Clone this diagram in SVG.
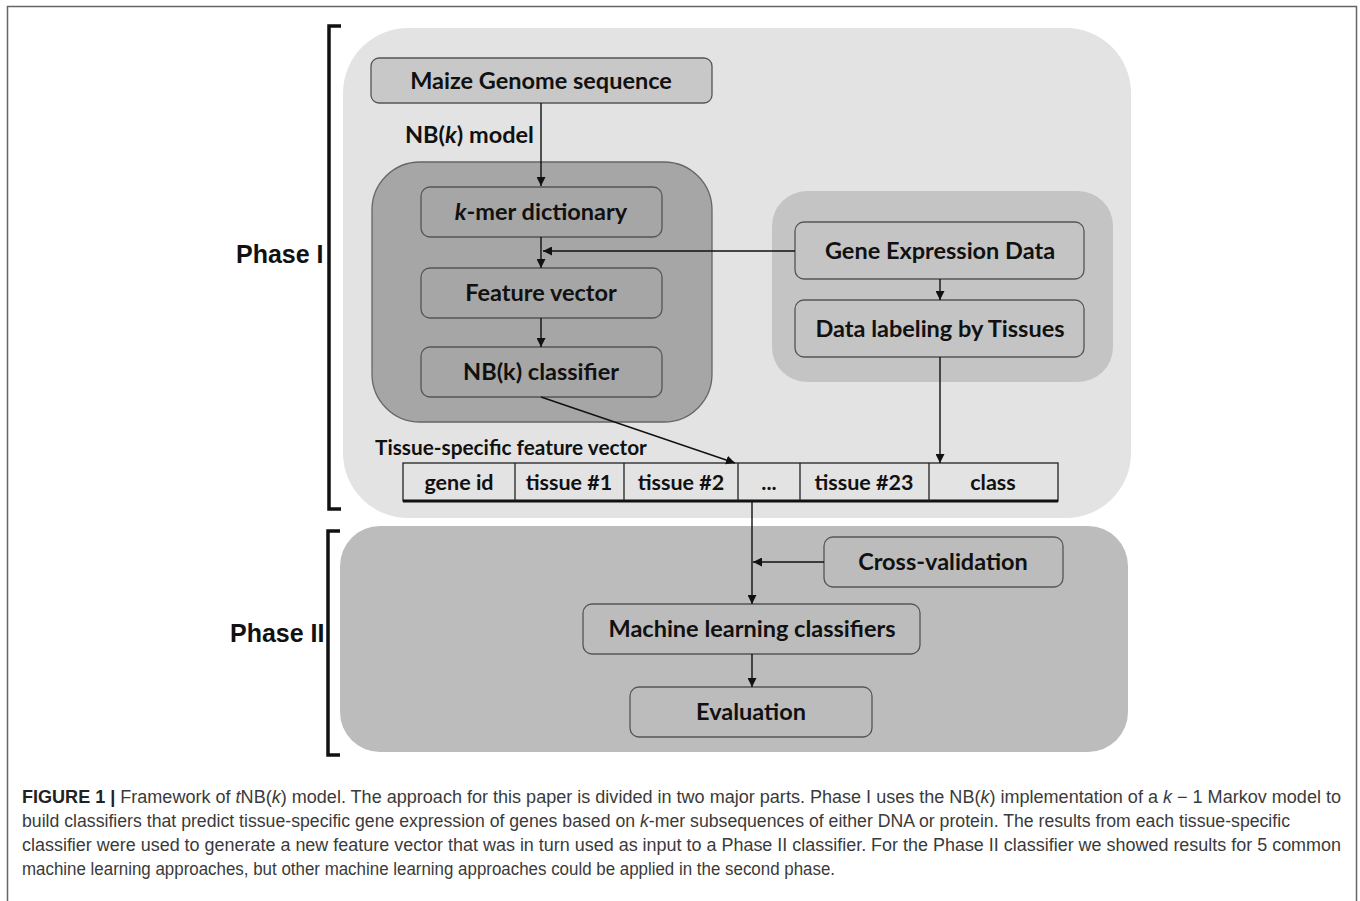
<svg xmlns="http://www.w3.org/2000/svg" width="1360" height="901" viewBox="0 0 1360 901">
<defs>
<marker id="ah" viewBox="0 0 10 10" refX="10" refY="5" markerWidth="9" markerHeight="9" markerUnits="userSpaceOnUse" orient="auto">
<path d="M0,0 L10,5 L0,10 z" fill="#111"/>
</marker>
</defs>
<style>
.lbl{font-family:Lato,"Open Sans","Liberation Sans",sans-serif;font-weight:bold;font-size:23.5px;fill:#111;text-anchor:middle}
.node{stroke:#555;stroke-width:1.3}
.conn{stroke:#111;stroke-width:1.4;fill:none}
.phase{font-family:"Liberation Sans",Arial,sans-serif;font-weight:bold;font-size:25px;fill:#111}
.brk{stroke:#111;stroke-width:3.5;fill:none}
.cap{font-family:"Liberation Sans",Arial,sans-serif;font-size:17.5px;fill:#3a3a3a}
.cell{fill:none;stroke:#222;stroke-width:1.3}
</style>
<rect x="7.5" y="6.5" width="1349" height="905" fill="#fff" stroke="#666" stroke-width="1.5"/>
<g id="phase1-bg"><rect x="343" y="28" width="788" height="490" rx="65" fill="#e3e3e3"/></g>
<g id="phase2-bg"><rect x="340" y="526" width="788" height="226" rx="40" fill="#bcbcbc"/></g>
<g id="phase1-label">
<path class="brk" d="M341,26 H329 V509 H341"/>
<text class="phase" x="236" y="263">Phase I</text>
</g>
<g id="phase2-label">
<path class="brk" d="M340,531 H328 V755 H340"/>
<text class="phase" x="230" y="642">Phase II</text>
</g>
<g id="maize">
<rect class="node" x="371" y="58" width="341" height="45" rx="8" fill="#c8c8c8"/>
<text class="lbl" x="541" y="89">Maize Genome sequence</text>
</g>
<g id="nbk-model-label"><text class="lbl" x="405" y="143" style="text-anchor:start">NB(<tspan font-style="italic">k</tspan>) model</text></g>
<g id="nbk-container"><rect x="372" y="162" width="340" height="260" rx="48" fill="#a6a6a6" stroke="#666" stroke-width="1.3"/></g>
<g id="kmer">
<rect class="node" x="421" y="187" width="241" height="50" rx="9" fill="#a6a6a6"/>
<text class="lbl" x="541" y="220"><tspan font-style="italic">k</tspan>-mer dictionary</text>
</g>
<g id="feature">
<rect class="node" x="421" y="268" width="241" height="50" rx="9" fill="#a6a6a6"/>
<text class="lbl" x="541" y="301">Feature vector</text>
</g>
<g id="nbk-classifier">
<rect class="node" x="421" y="347" width="241" height="50" rx="9" fill="#a6a6a6"/>
<text class="lbl" x="541" y="380">NB(k) classifier</text>
</g>
<g id="gene-container"><rect x="772" y="191" width="341" height="191" rx="35" fill="#c4c4c4"/></g>
<g id="gene-expr">
<rect class="node" x="795" y="222" width="289" height="57" rx="9" fill="#c4c4c4"/>
<text class="lbl" x="940" y="259">Gene Expression Data</text>
</g>
<g id="data-label">
<rect class="node" x="795" y="300" width="289" height="57" rx="9" fill="#c4c4c4"/>
<text class="lbl" x="940" y="337">Data labeling by Tissues</text>
</g>
<g id="tsfv">
<text class="lbl" x="375" y="455" style="text-anchor:start;font-size:20.8px">Tissue-specific feature vector</text>
<rect class="cell" x="403" y="463" width="655" height="38" fill="#e3e3e3"/>
<line x1="403" y1="501" x2="1058" y2="501" stroke="#111" stroke-width="3"/>
<path class="cell" d="M515,463 V501 M624,463 V501 M738,463 V501 M800,463 V501 M929,463 V501"/>
<g class="lbl" style="font-size:21.5px">
<text x="459" y="490">gene id</text>
<text x="569" y="490">tissue #1</text>
<text x="681" y="490">tissue #2</text>
<text x="769" y="490">...</text>
<text x="864" y="490">tissue #23</text>
<text x="993" y="490">class</text>
</g>
</g>
<g id="cross-val">
<rect class="node" x="824" y="537" width="239" height="50" rx="9" fill="#bcbcbc"/>
<text class="lbl" x="943" y="570">Cross-validation</text>
</g>
<g id="ml">
<rect class="node" x="583" y="604" width="337" height="50" rx="9" fill="#bcbcbc"/>
<text class="lbl" x="752" y="637">Machine learning classifiers</text>
</g>
<g id="eval">
<rect class="node" x="630" y="687" width="242" height="50" rx="9" fill="#bcbcbc"/>
<text class="lbl" x="751" y="720">Evaluation</text>
</g>
<g id="connectors">
<line class="conn" x1="541" y1="103" x2="541" y2="186" marker-end="url(#ah)"/>
<line class="conn" x1="541" y1="237" x2="541" y2="268" marker-end="url(#ah)"/>
<line class="conn" x1="541" y1="318" x2="541" y2="347" marker-end="url(#ah)"/>
<line class="conn" x1="795" y1="251" x2="543" y2="251" marker-end="url(#ah)"/>
<line class="conn" x1="940" y1="279" x2="940" y2="300" marker-end="url(#ah)"/>
<line class="conn" x1="940" y1="357" x2="940" y2="463" marker-end="url(#ah)"/>
<line class="conn" x1="541" y1="397" x2="735" y2="463" marker-end="url(#ah)"/>
<line class="conn" x1="752" y1="502" x2="752" y2="604" marker-end="url(#ah)"/>
<line class="conn" x1="824" y1="562" x2="753" y2="562" marker-end="url(#ah)"/>
<line class="conn" x1="752" y1="654" x2="752" y2="687" marker-end="url(#ah)"/>
</g>
<g id="caption">
<text class="cap" x="22" y="803" textLength="1319" lengthAdjust="spacingAndGlyphs"><tspan font-weight="bold" fill="#222">FIGURE 1 |</tspan> Framework of <tspan font-style="italic">t</tspan>NB(<tspan font-style="italic">k</tspan>) model. The approach for this paper is divided in two major parts. Phase I uses the NB(<tspan font-style="italic">k</tspan>) implementation of a <tspan font-style="italic">k</tspan> − 1 Markov model to</text>
<text class="cap" x="22" y="827" textLength="1268" lengthAdjust="spacingAndGlyphs">build classifiers that predict tissue-specific gene expression of genes based on <tspan font-style="italic">k</tspan>-mer subsequences of either DNA or protein. The results from each tissue-specific</text>
<text class="cap" x="22" y="851" textLength="1319" lengthAdjust="spacingAndGlyphs">classifier were used to generate a new feature vector that was in turn used as input to a Phase II classifier. For the Phase II classifier we showed results for 5 common</text>
<text class="cap" x="22" y="875" textLength="813" lengthAdjust="spacingAndGlyphs">machine learning approaches, but other machine learning approaches could be applied in the second phase.</text>
</g>
</svg>
